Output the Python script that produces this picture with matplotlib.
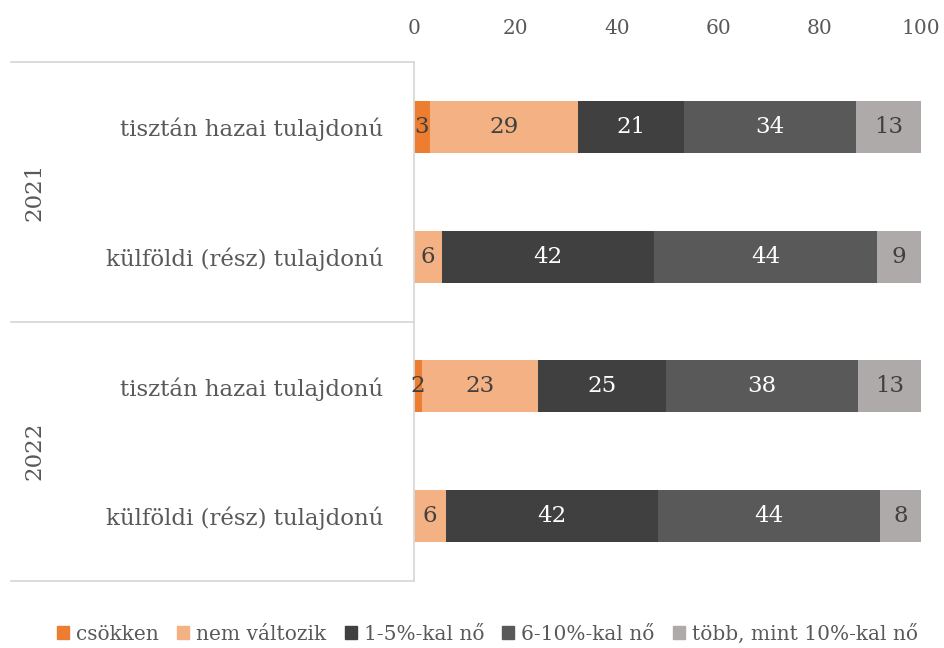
import matplotlib.pyplot as plt
from matplotlib.patches import Patch

plt.rcParams['font.family'] = ['DejaVu Serif']

categories = ['tisztán hazai tulajdonú', 'külföldi (rész) tulajdonú',
              'tisztán hazai tulajdonú', 'külföldi (rész) tulajdonú']
years = ['2021', '2022']
series_names = ['csökken', 'nem változik', '1-5%-kal nő', '6-10%-kal nő', 'több, mint 10%-kal nő']

csokken = [3.2, 0.0, 1.5, 0.0]
nem_valtozik = [29.1, 5.5, 23.0, 6.3]
no_1_5 = [21.0, 41.9, 25.2, 41.8]
no_6_10 = [33.9, 44.0, 37.9, 43.8]
tobb_10 = [12.8, 8.6, 12.5, 8.1]

series = [csokken, nem_valtozik, no_1_5, no_6_10, tobb_10]
colors = ['#ED7D31', '#F4B183', '#404040', '#595959', '#AEAAAA']
label_colors = ['#404040', '#404040', 'white', 'white', '#404040']
xticks = [0, 20, 40, 60, 80, 100]

fig = plt.figure(figsize=(9.45, 6.48), dpi=100)
ax = fig.add_axes([0.438, 0.1034, 0.5366, 0.8009])

ypos = [i + 0.5 for i in range(len(categories))]
left = [0.0] * len(categories)
for vals, col, lcol, name in zip(series, colors, label_colors, series_names):
    ax.barh(ypos, vals, left=left, height=0.4, color=col, label=name)
    for y, v, l in zip(ypos, vals, left):
        if v > 0:
            ax.text(l + v / 2, y, str(int(v + 0.5)), ha='center', va='center',
                    color=lcol, fontsize=16.5, clip_on=False)
    left = [a + b for a, b in zip(left, vals)]

ax.set_xlim(0, 100)
ax.set_ylim(4, 0)
ax.xaxis.tick_top()
ax.set_xticks(xticks)
ax.tick_params(axis='x', length=0, pad=17, labelsize=14.5, labelcolor='#595959')
ax.set_yticks(ypos)
ax.set_yticklabels(categories)
ax.tick_params(axis='y', length=0, pad=22, labelsize=16.5, labelcolor='#595959')
for s in ['top', 'right', 'bottom']:
    ax.spines[s].set_visible(False)
ax.spines['left'].set_color('#D9D9D9')
ax.spines['left'].set_linewidth(1.3)

# group separators and year labels
for yy in [0, 0.5, 1]:
    ax.plot([-0.795, 0], [yy, yy], transform=ax.transAxes, color='#D9D9D9',
            lw=1.3, clip_on=False)
for i, yr in enumerate(years):
    ax.text(-0.748, 0.75 - 0.5 * i, yr, transform=ax.transAxes, rotation=90,
            ha='center', va='center', fontsize=16.5, color='#595959')

handles = [Patch(color=c, label=n) for c, n in zip(colors, series_names)]
leg = fig.legend(handles=handles, loc='center', bbox_to_anchor=(0.516, 0.022),
                 ncol=5, frameon=False, fontsize=14.5, handlelength=0.6,
                 handleheight=0.6, handletextpad=0.35, columnspacing=0.9)
for t in leg.get_texts():
    t.set_color('#595959')

fig.savefig('out.png', dpi=100)
